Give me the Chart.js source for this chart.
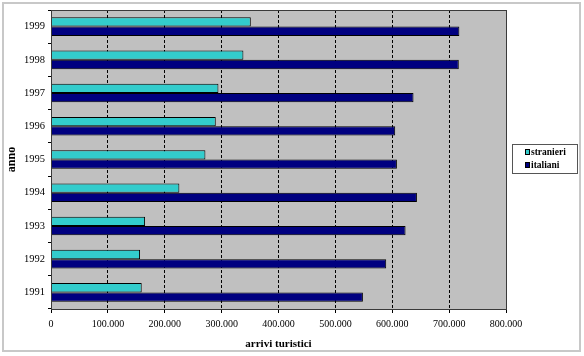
<!DOCTYPE html>
<html>
<head>
<meta charset="utf-8">
<script src="https://cdn.jsdelivr.net/npm/chart.js@4"></script>
<style>
  html, body { margin: 0; padding: 0; background: #ffffff; }
  canvas { display: block; }
</style>
</head>
<body>
<canvas id="c" width="584" height="356"></canvas>
<script>
// ---- data ----
const years = ['1991', '1992', '1993', '1994', '1995', '1996', '1997', '1998', '1999'];
const stranieri = [159500, 156600, 165400, 225700, 271500, 289700, 294400, 338300, 351300];
const italiani = [548400, 589400, 623400, 643400, 608200, 605200, 637400, 717000, 718000];
const xTickLabels = ['0', '100.000', '200.000', '300.000', '400.000', '500.000', '600.000', '700.000', '800.000'];
const seriesNames = ['stranieri', 'italiani'];
const xTitle = 'arrivi turistici';
const yTitle = 'anno';

const SERIF = '"Liberation Serif", "DejaVu Serif", serif';

const framePlugin = {
  id: 'frame',
  beforeDraw(chart) {
    const ctx = chart.ctx, a = chart.chartArea;
    ctx.save();
    ctx.fillStyle = '#ffffff';
    ctx.fillRect(0, 0, chart.width, chart.height);
    ctx.fillStyle = '#c0c0c0';
    ctx.fillRect(a.left, a.top, a.right - a.left, a.bottom - a.top);
    ctx.restore();
  },
  afterDraw(chart) {
    const ctx = chart.ctx, a = chart.chartArea;
    ctx.save();
    // outer chart border
    ctx.strokeStyle = '#c8c8c8';
    ctx.lineWidth = 2;
    ctx.strokeRect(3, 3, 577, 348);
    // plot area border
    ctx.strokeStyle = '#3a3a3a';
    ctx.lineWidth = 1;
    ctx.strokeRect(Math.round(a.left) + 0.5, Math.round(a.top) + 0.5,
                   Math.round(a.right - a.left), Math.round(a.bottom - a.top));
    // legend
    const lx = 512, ly = 144, lw = 65, lh = 29;
    ctx.strokeStyle = '#555555';
    ctx.strokeRect(lx + 0.5, ly + 0.5, lw, lh);
    ctx.font = 'bold 9.5px ' + SERIF;
    ctx.textBaseline = 'middle';
    ctx.textAlign = 'left';
    chart.data.datasets.forEach((ds, i) => {
      const cy = ly + 8 + i * 13;
      ctx.fillStyle = ds.backgroundColor;
      ctx.fillRect(525, cy - 2.5, 5, 5);
      ctx.strokeStyle = '#000000';
      ctx.strokeRect(525.5, cy - 2.5, 4, 5);
      ctx.fillStyle = '#000000';
      ctx.fillText(ds.label, 531, cy + 0.5);
    });
    ctx.restore();
  }
};

new Chart(document.getElementById('c'), {
  type: 'bar',
  data: {
    labels: years,
    datasets: [
      { label: seriesNames[0], data: stranieri, backgroundColor: '#33cccc', borderColor: '#000000', borderWidth: 1 },
      { label: seriesNames[1], data: italiani, backgroundColor: '#000080', borderColor: '#000000', borderWidth: 1 }
    ]
  },
  options: {
    indexAxis: 'y',
    responsive: false,
    animation: false,
    devicePixelRatio: 1,
    layout: { padding: { left: 0, right: 78, top: 10, bottom: 0 } },
    datasets: { bar: { categoryPercentage: 0.56, barPercentage: 1.0 } },
    plugins: { legend: { display: false }, tooltip: { enabled: false } },
    scales: {
      x: {
        min: 0, max: 800000,
        ticks: {
          stepSize: 100000, color: '#000000', padding: 5,
          font: { family: SERIF, size: 10 },
          maxRotation: 0,
          callback: (v, i) => xTickLabels[i]
        },
        grid: { color: '#000000', lineWidth: 1, tickLength: 4, tickColor: '#000000', tickBorderDash: [] },
        border: { display: true, color: '#3a3a3a', dash: [3, 2] },
        title: { display: true, text: xTitle, color: '#000000', font: { family: SERIF, size: 11, weight: 'bold' }, padding: { top: 0, bottom: 5 } },
        afterFit(s) { s.height = 47; }
      },
      y: {
        reverse: true,
        ticks: { color: '#000000', padding: 3, font: { family: SERIF, size: 10.5 } },
        grid: { offset: true, drawOnChartArea: false, tickLength: 3, tickColor: '#000000' },
        border: { display: true, color: '#3a3a3a' },
        title: { display: true, text: yTitle, color: '#000000', font: { family: SERIF, size: 12, weight: 'bold' }, padding: { top: 5, bottom: 0 } },
        afterFit(s) { s.width = 51; }
      }
    }
  },
  plugins: [framePlugin]
});
</script>
</body>
</html>
